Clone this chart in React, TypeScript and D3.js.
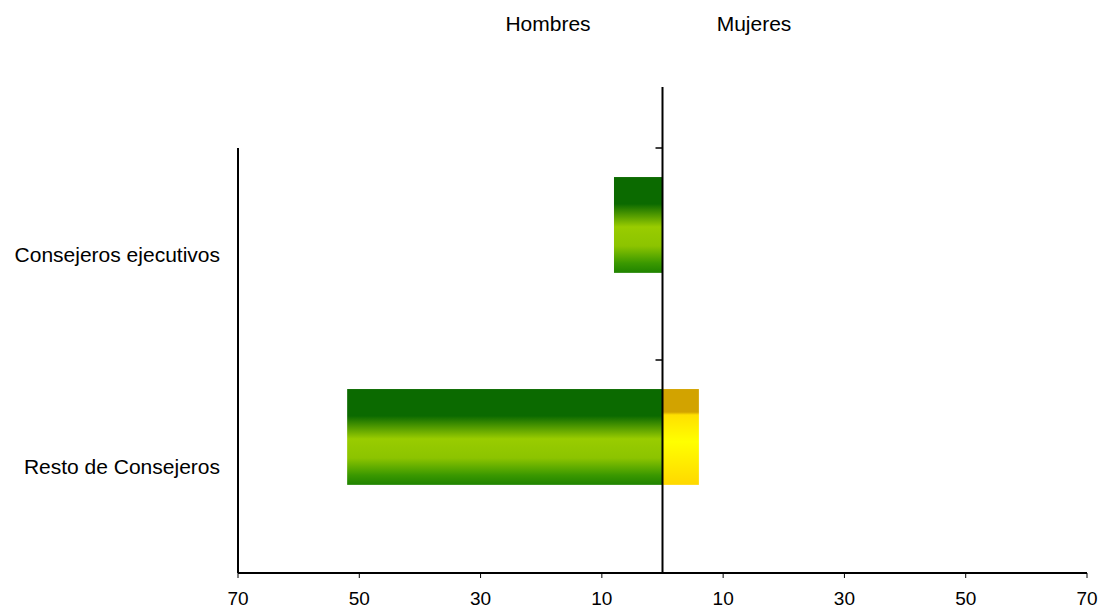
import React from "react";
import * as d3 from "d3";

const categories = ["Consejeros ejecutivos", "Resto de Consejeros"];
const hombres = [8, 52];
const mujeres = [0, 6];
const tickValues = [-70, -50, -30, -10, 10, 30, 50, 70];
const seriesLabels = ["Hombres", "Mujeres"];

export default function App() {
  const width = 1101;
  const height = 612;
  const x = d3.scaleLinear().domain([-70, 70]).range([238, 1087]);
  const y = d3.scaleBand().domain(categories).range([148, 572]);
  const bw = y.bandwidth();
  const barTop = (c: string) => (y(c) as number) + bw * 0.137;
  const barH = bw * 0.452;
  const axisY = 573;
  const font = "Arial, 'Liberation Sans', sans-serif";

  return (
    <svg
      width={width}
      height={height}
      style={{ position: "absolute", left: 0, top: 0, background: "#fff" }}
      fontFamily={font}
    >
      <defs>
        <linearGradient id="green" x1="0" y1="0" x2="0" y2="1">
          <stop offset="0" stopColor="#0b6a00" />
          <stop offset="0.28" stopColor="#0b6a00" />
          <stop offset="0.52" stopColor="#99cc00" />
          <stop offset="0.72" stopColor="#8cc400" />
          <stop offset="0.9" stopColor="#3a9800" />
          <stop offset="1" stopColor="#1f8300" />
        </linearGradient>
        <linearGradient id="yellow" x1="0" y1="0" x2="0" y2="1">
          <stop offset="0" stopColor="#d2a300" />
          <stop offset="0.24" stopColor="#d2a300" />
          <stop offset="0.27" stopColor="#ffe000" />
          <stop offset="0.55" stopColor="#ffff00" />
          <stop offset="1" stopColor="#ffd800" />
        </linearGradient>
      </defs>

      {categories.map((c, i) => (
        <g key={c}>
          {hombres[i] > 0 && (
            <rect
              x={x(-hombres[i])}
              y={barTop(c)}
              width={x(0) - x(-hombres[i])}
              height={barH}
              fill="url(#green)"
            />
          )}
          {mujeres[i] > 0 && (
            <rect
              x={x(0)}
              y={barTop(c)}
              width={x(mujeres[i]) - x(0)}
              height={barH}
              fill="url(#yellow)"
            />
          )}
        </g>
      ))}

      <line x1={x(-70)} x2={x(-70)} y1={148} y2={axisY} stroke="#000" strokeWidth={2} />

      <line x1={x(0)} x2={x(0)} y1={87} y2={axisY} stroke="#000" strokeWidth={2} />
      {[148, 360].map((v) => (
        <line key={v} x1={x(0) - 7} x2={x(0)} y1={v} y2={v} stroke="#000" strokeWidth={1.5} />
      ))}

      <line x1={x(-70)} x2={x(70)} y1={axisY} y2={axisY} stroke="#000" strokeWidth={2} />
      {tickValues.map((t) => (
        <g key={t}>
          <line x1={x(t)} x2={x(t)} y1={axisY} y2={axisY + 5} stroke="#000" strokeWidth={1} />
          <text x={x(t)} y={605} textAnchor="middle" fontSize={19} fill="#000">
            {Math.abs(t)}
          </text>
        </g>
      ))}

      {categories.map((c) => (
        <text
          key={c}
          x={220}
          y={(y(c) as number) + bw / 2 + 8}
          textAnchor="end"
          fontSize={21}
          fill="#000"
        >
          {c}
        </text>
      ))}

      <text x={548} y={31} textAnchor="middle" fontSize={21} fill="#000">
        {seriesLabels[0]}
      </text>
      <text x={754} y={31} textAnchor="middle" fontSize={21} fill="#000">
        {seriesLabels[1]}
      </text>
    </svg>
  );
}
